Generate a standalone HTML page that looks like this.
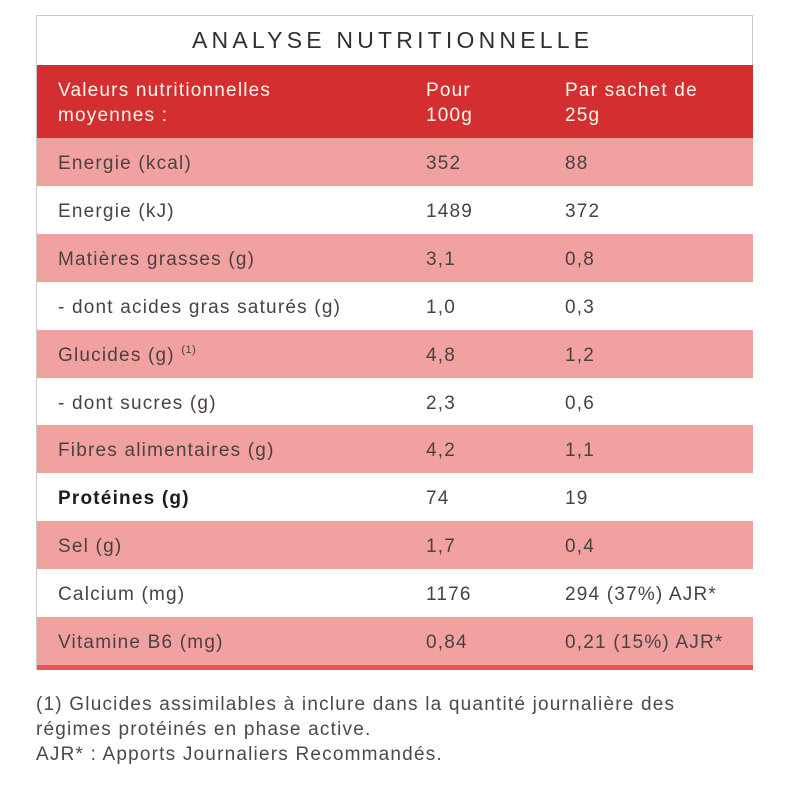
<!DOCTYPE html>
<html>
<head>
<meta charset="utf-8">
<style>
  html, body { margin: 0; padding: 0; }
  body {
    width: 800px; height: 800px; background: #ffffff; position: relative; overflow: hidden;
    font-family: "Liberation Sans", "DejaVu Sans", sans-serif;
  }
  .box {
    position: absolute; left: 36px; top: 15px; width: 717px; height: 654px;
    border: 1px solid #c9c9c9; border-bottom: none; box-sizing: border-box;
  }
  .title {
    position: absolute; left: 192px; top: 29px; font-size: 23px; line-height: 23px;
    letter-spacing: 4.2px; color: #2f2f35; white-space: nowrap;
  }
  .head {
    position: absolute; left: 37px; top: 65px; width: 716px; height: 73px; background: #d42f30;
  }
  .head div {
    position: absolute; top: 13px; font-size: 19px; line-height: 25px; letter-spacing: 1.2px;
    color: #fff6f2; white-space: nowrap;
  }
  .row {
    position: absolute; left: 37px; width: 716px; height: 48px;
  }
  .row.p { background: #f2a1a1; }
  .row.w { background: #ffffff; }
  .row div {
    position: absolute; top: 1.5px; font-size: 19px; line-height: 48px; letter-spacing: 1.2px;
    color: #4a4242; white-space: nowrap;
  }
  .c1 { left: 21px; }
  .c2 { left: 389px; }
  .c3 { left: 528px; }
  .bold { font-weight: bold; color: #1c1a24 !important; }
  .sup { font-size: 11px; letter-spacing: 0.5px; position: relative; top: -8px; vertical-align: baseline; line-height: 0; }
  .bar { position: absolute; left: 37px; top: 665px; width: 716px; height: 5px; background: #ef5252; }
  .foot {
    position: absolute; left: 36px; top: 692px; font-size: 19px; line-height: 25px; letter-spacing: 1.2px;
    color: #4a4a4a; white-space: nowrap;
  }
</style>
</head>
<body>
  <div class="box"></div>
  <div class="title">ANALYSE NUTRITIONNELLE</div>

  <div class="head">
    <div style="left:21px">Valeurs nutritionnelles<br>moyennes :</div>
    <div style="left:389px">Pour<br>100g</div>
    <div style="left:528px">Par sachet de<br>25g</div>
  </div>

  <div class="row p" style="top:138px"><div class="c1">Energie (kcal)</div><div class="c2">352</div><div class="c3">88</div></div>
  <div class="row w" style="top:186px"><div class="c1">Energie (kJ)</div><div class="c2">1489</div><div class="c3">372</div></div>
  <div class="row p" style="top:234px"><div class="c1">Matières grasses (g)</div><div class="c2">3,1</div><div class="c3">0,8</div></div>
  <div class="row w" style="top:282px"><div class="c1">- dont acides gras saturés (g)</div><div class="c2">1,0</div><div class="c3">0,3</div></div>
  <div class="row p" style="top:330px"><div class="c1">Glucides (g) <span class="sup">(1)</span></div><div class="c2">4,8</div><div class="c3">1,2</div></div>
  <div class="row w" style="top:378px"><div class="c1">- dont sucres (g)</div><div class="c2">2,3</div><div class="c3">0,6</div></div>
  <div class="row p" style="top:425px"><div class="c1">Fibres alimentaires (g)</div><div class="c2">4,2</div><div class="c3">1,1</div></div>
  <div class="row w" style="top:473px"><div class="c1 bold">Protéines (g)</div><div class="c2">74</div><div class="c3">19</div></div>
  <div class="row p" style="top:521px"><div class="c1">Sel (g)</div><div class="c2">1,7</div><div class="c3">0,4</div></div>
  <div class="row w" style="top:569px"><div class="c1">Calcium (mg)</div><div class="c2">1176</div><div class="c3">294 (37%) AJR*</div></div>
  <div class="row p" style="top:617px"><div class="c1">Vitamine B6 (mg)</div><div class="c2">0,84</div><div class="c3">0,21 (15%) AJR*</div></div>
  <div class="bar"></div>

  <div class="foot">(1) Glucides assimilables à inclure dans la quantité journalière des<br>régimes protéinés en phase active.<br>AJR* : Apports Journaliers Recommandés.</div>
</body>
</html>
